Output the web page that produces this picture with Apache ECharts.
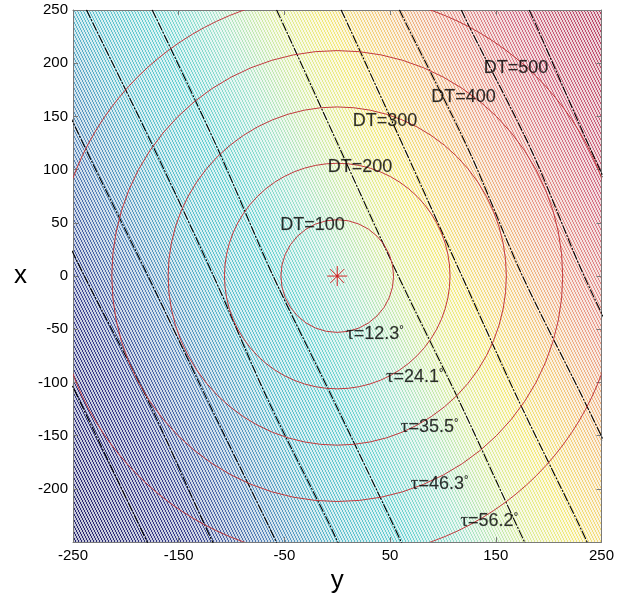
<!DOCTYPE html>
<html><head><meta charset="utf-8">
<script src="https://cdn.jsdelivr.net/npm/echarts@6/dist/echarts.min.js"></script>
<style>html,body{margin:0;padding:0;background:#fff}#c{width:617px;height:599px}</style>
</head><body><div id="c"></div>
<script>
// ---- data ----
const hTicks = [-250, -150, -50, 50, 150, 250];               // horizontal axis "y"
const vTicks = [-200, -150, -100, -50, 0, 50, 100, 150, 200, 250]; // vertical axis "x"

const sourcePoint = [0, 0];

const dtValues = [100, 200, 300, 400, 500];
const dtRadius = [53.3, 106.7, 160, 213.3, 266.7];
const dtLabelH = [-23.5, 21.6, 45.1, 119.4, 169.2];
const dtLabelV = [48.3, 102.7, 145.9, 168.4, 195.6];

const tauValues = ['12.3', '24.1', '35.5', '46.3', '56.2'];
const tauLabelH = [35.7, 73.3, 87.4, 96.8, 143.8];
const tauLabelV = [-54.9, -95.2, -142.1, -195.6, -230.3];

// tau contour lines: horizontal positions at the vertical rows below
const tauRowV = [262, 236, 119, 1, -116, -233, -262];
const tauLine1  = [null, null, null, -300, -244.4, -188.0, -174];
const tauLine2  = [null, null, -297, -239.7, -179.5, -125.9, -112];
const tauLine3  = [null, -293, -237.8, -179.5, -123.1, -65.8, -52];
const tauLine4  = [-243, -230.3, -172.9, -117.5, -65.8, -7.5, 6];
const tauLine5  = [-181, -168.2, -112.8, -61.1, -3.8, 52.6, 66];
const tauLine6  = [-63, -50.8, 2.8, 57.3, 114.7, 169.2, 183];
const tauLine7  = [-2, 10.3, 63.9, 117.5, 171.1, 228.4, 242];
const tauLine8  = [53, 65.8, 124.1, 174.8, 233.1, 290, null];
const tauLine9  = [112, 124.1, 183.3, 233.1, 290, null, null];
const tauLine10 = [176, 188.0, 239.7, 295, null, null, null];
const tauLines = [tauLine1, tauLine2, tauLine3, tauLine4, tauLine5, tauLine6, tauLine7, tauLine8, tauLine9, tauLine10];

// ---- styling ----
const FONT = 'Liberation Sans, Arial, sans-serif';
const colorStops = [
  [0.0, '#24246a'], [0.15, '#363e8c'], [0.25, '#5284b8'], [0.3375, '#5cbccc'],
  [0.425, '#66d0d0'], [0.5, '#a2e2cc'], [0.575, '#dcec9c'], [0.6375, '#f2e878'],
  [0.7125, '#f2c87c'], [0.7875, '#e89c88'], [0.875, '#d06c80'], [1.0, '#b44060']
].map(s => ({offset: s[0], color: s[1]}));

// hatch texture (fine contour lines)
const pat = document.createElement('canvas');
pat.width = 3; pat.height = 6;
(function () {
  const ctx = pat.getContext('2d');
  ctx.fillStyle = 'rgba(255,255,255,0.74)';
  ctx.fillRect(0, 0, 3, 6);
  for (let y = 0; y < 6; y++) ctx.clearRect(Math.floor(y / 2), y, 1, 1);
})();

const chart = echarts.init(document.getElementById('c'), null, {renderer: 'canvas'});

function rectOf(cs) { return {x: cs.x, y: cs.y, width: cs.width, height: cs.height}; }

const series = [];
// background field
series.push({
  type: 'custom', silent: true, z: 0,
  data: [[0, 0]],
  renderItem: function (params, api) {
    const cs = params.coordSys;
    const p0 = api.coord([-304.8, -146.1]);
    const p1 = api.coord([306.3, 146.7]);
    return {
      type: 'group',
      children: [
        {type: 'rect', shape: rectOf(cs), style: {fill: {type: 'linear', x: p0[0], y: p0[1], x2: p1[0], y2: p1[1], global: true, colorStops: colorStops}}},
        {type: 'rect', shape: rectOf(cs), style: {fill: {image: pat, repeat: 'repeat'}}}
      ]
    };
  }
});
// tau lines
tauLines.forEach(function (line) {
  const d = [];
  line.forEach(function (h, i) { if (h !== null) d.push([h, tauRowV[i]]); });
  series.push({
    type: 'line', data: d, symbol: 'none', silent: true, z: 3, clip: true, smooth: 0.3,
    lineStyle: {color: '#000', width: 1.1, type: [9, 1.5, 2, 1.5]}
  });
});
// DT circles
series.push({
  type: 'custom', silent: true, z: 4,
  data: dtRadius.map(r => [r, 0]),
  renderItem: function (params, api) {
    const cs = params.coordSys;
    const c = api.coord(sourcePoint);
    const e = api.coord([sourcePoint[0] + api.value(0), sourcePoint[1]]);
    return {
      type: 'group',
      clipPath: {type: 'rect', shape: rectOf(cs)},
      children: [{type: 'circle', shape: {cx: c[0], cy: c[1], r: Math.abs(e[0] - c[0])},
        style: {fill: 'none', stroke: '#c23a3e', lineWidth: 1}}]
    };
  }
});
// source star
series.push({
  type: 'scatter', silent: true, z: 5, data: [sourcePoint],
  symbol: 'path://M10 0L10 20M0 10L20 10M3 3L17 17M3 17L17 3', symbolSize: 20,
  itemStyle: {color: 'rgba(0,0,0,0)', borderColor: '#d42828', borderWidth: 1, opacity: 1}
});
series.push({
  type: 'scatter', silent: true, z: 5, data: [sourcePoint],
  symbol: 'circle', symbolSize: 3, itemStyle: {color: '#d42020'}
});
// DT labels
series.push({
  type: 'scatter', silent: true, z: 6, symbolSize: 1,
  itemStyle: {color: 'rgba(0,0,0,0)'},
  data: dtValues.map((v, i) => ({value: [dtLabelH[i], dtLabelV[i]], name: 'DT=' + v})),
  label: {show: true, position: 'inside', formatter: p => p.name, color: '#000', fontSize: 18, fontFamily: FONT,
    textBorderColor: 'rgba(0,0,0,0.35)', textBorderWidth: 0.4}
});
// tau labels
series.push({
  type: 'scatter', silent: true, z: 6, symbolSize: 1,
  itemStyle: {color: 'rgba(0,0,0,0)'},
  data: tauValues.map((v, i) => ({value: [tauLabelH[i], tauLabelV[i]], name: v})),
  label: {
    show: true, position: 'inside', color: '#000', fontSize: 18, fontFamily: FONT, lineHeight: 20,
    textBorderColor: 'rgba(0,0,0,0.35)', textBorderWidth: 0.4,
    formatter: p => '{t|τ}=' + p.name + '{d|°}',
    rich: {
      t: {fontFamily: 'Liberation Serif, DejaVu Serif, serif', fontSize: 19, color: '#000', lineHeight: 20},
      d: {fontSize: 11, color: '#000', verticalAlign: 'top', lineHeight: 20}
    }
  }
});

const axisLineStyle = {color: '#7a7a7a', width: 1};
chart.setOption({
  animation: false,
  backgroundColor: '#fff',
  grid: {left: 73, top: 10, width: 532, height: 533, containLabel: false},
  xAxis: [{
    type: 'value', min: -250, max: 250, position: 'bottom',
    axisLine: {show: true, onZero: false, lineStyle: axisLineStyle},
    axisTick: {show: true, inside: true, length: 5, customValues: hTicks, lineStyle: axisLineStyle},
    axisLabel: {customValues: hTicks, margin: 6, color: '#000', fontSize: 15, fontFamily: FONT},
    splitLine: {show: false},
    name: 'y', nameLocation: 'middle', nameGap: 22,
    nameTextStyle: {fontSize: 26, color: '#000', fontFamily: FONT}
  }, {
    type: 'value', min: -250, max: 250, position: 'top',
    axisLine: {show: true, onZero: false, lineStyle: axisLineStyle},
    axisTick: {show: true, inside: true, length: 5, customValues: hTicks, lineStyle: axisLineStyle},
    axisLabel: {show: false}, splitLine: {show: false}
  }],
  yAxis: [{
    type: 'value', min: -250, max: 250, position: 'left',
    axisLine: {show: true, onZero: false, lineStyle: axisLineStyle},
    axisTick: {show: true, inside: true, length: 5, customValues: vTicks, lineStyle: axisLineStyle},
    axisLabel: {customValues: vTicks, margin: 5, color: '#000', fontSize: 15, fontFamily: FONT},
    splitLine: {show: false},
    name: 'x', nameLocation: 'middle', nameGap: 46, nameRotate: 0,
    nameTextStyle: {fontSize: 26, color: '#000', fontFamily: FONT}
  }, {
    type: 'value', min: -250, max: 250, position: 'right',
    axisLine: {show: true, onZero: false, lineStyle: axisLineStyle},
    axisTick: {show: true, inside: true, length: 5, customValues: vTicks, lineStyle: axisLineStyle},
    axisLabel: {show: false}, splitLine: {show: false}
  }],
  series: series
});
</script>
</body></html>
